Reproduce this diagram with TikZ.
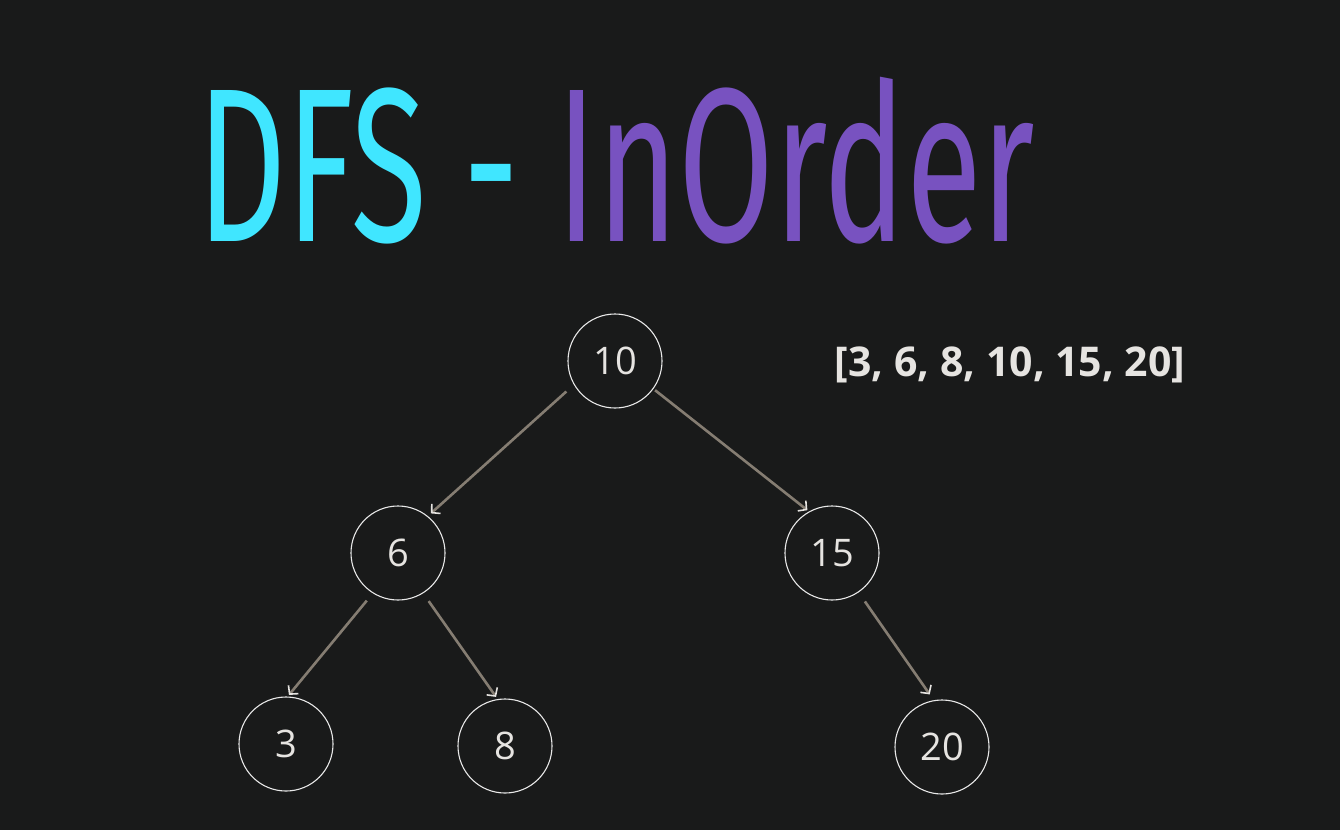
\documentclass[tikz,border=0pt]{standalone}
\usepackage{fontspec}
\usepackage{graphicx}
\setmainfont{Open Sans}
\newfontfamily\titlefont{Fira Sans}
\usetikzlibrary{arrows.meta}
\definecolor{bg}{HTML}{191A1A}
\definecolor{cy}{HTML}{40E6FF}
\definecolor{pu}{HTML}{7852C0}
\definecolor{edgec}{HTML}{857D72}
\definecolor{txt}{HTML}{E6E4E1}
\definecolor{ring}{HTML}{E8E8E8}
\tikzset{
  tnode/.style={circle, draw=ring, line width=1.1pt, minimum size=94pt, inner sep=0pt,
    text=txt, font=\fontsize{38}{38}\selectfont},
  edge/.style={draw=edgec, line width=2.6pt,
    -{Straight Barb[color=txt, length=6pt, width=13pt, line width=1.6pt]}},
}
\begin{document}
\begin{tikzpicture}[x=1pt, y=-1pt]
\fill[bg] (0,0) rectangle (1340,830);
\useasboundingbox (0,0) rectangle (1340,830);
\node[anchor=base west, inner sep=0pt] (title) at (197,241)
  {\resizebox{838pt}{151pt}{\titlefont\fontsize{100}{100}\selectfont\raisebox{0pt}[\fontcharht\font`I][0pt]{\color{cy}DFS -\ \color{pu}InOrder}}};
\node[tnode] (n10) at (615,361) {10};
\node[tnode] (n6) at (398,553) {6};
\node[tnode] (n15) at (832,553) {15};
\node[tnode] (n3) at (286,744) {3};
\node[tnode] (n8) at (505,746) {8};
\node[tnode] (n20) at (942,747) {20};
\node[text=txt, font=\bfseries\fontsize{41}{41}\selectfont, inner sep=0pt] (list) at (1010,365) {[3, 6, 8, 10, 15, 20]};
\draw[edge, shorten <=10pt, shorten >=4pt] (n10.210.6) -- (n6.51);
\draw[edge, shorten <=2pt, shorten >=2pt] (n10.-36) -- (n15.119);
\draw[edge, shorten <=9.5pt, shorten >=2pt] (n6.238) -- (n3.88);
\draw[edge, shorten <=9.5pt, shorten >=2.6pt] (n6.302) -- (n8.99);
\draw[edge, shorten <=11pt, shorten >=7pt] (n15.304.5) -- (n20.100.5);
\end{tikzpicture}
\end{document}
